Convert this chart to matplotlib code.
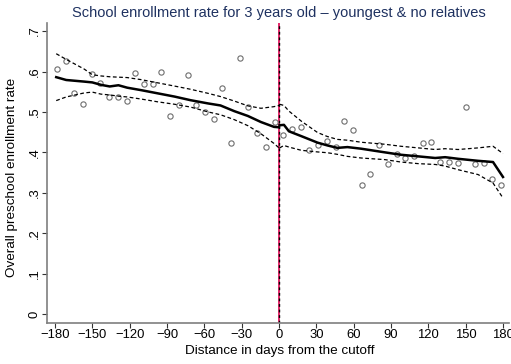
import matplotlib
matplotlib.use("Agg")
import matplotlib.pyplot as plt

plt.rcParams['font.family'] = ['Liberation Sans', 'DejaVu Sans']

# binned means (weekly bins)
x_left = [-178.5, -171.5, -164.5, -157.5, -150.5, -143.5, -136.5, -129.5, -122.5,
          -115.5, -108.5, -101.5, -94.5, -87.5, -80.5, -73.5, -66.5, -59.5, -52.5,
          -45.5, -38.5, -31.5, -24.5, -17.5, -10.5, -3.5]
y_left = [0.607, 0.626, 0.546, 0.519, 0.593, 0.571, 0.538, 0.538, 0.528, 0.596,
          0.570, 0.570, 0.598, 0.489, 0.516, 0.592, 0.518, 0.501, 0.483, 0.558,
          0.424, 0.634, 0.511, 0.449, 0.414, 0.476]
x_right = [3.5, 10.5, 17.5, 24.5, 31.5, 38.5, 45.5, 52.5, 59.5, 66.5, 73.5, 80.5,
           87.5, 94.5, 101.5, 108.5, 115.5, 122.5, 129.5, 136.5, 143.5, 150.5,
           157.5, 164.5, 171.5, 178.5]
y_right = [0.442, 0.458, 0.463, 0.405, 0.417, 0.428, 0.412, 0.478, 0.456, 0.318,
           0.347, 0.419, 0.372, 0.395, 0.387, 0.391, 0.424, 0.425, 0.375, 0.377,
           0.374, 0.513, 0.371, 0.374, 0.334, 0.320]

# local fit and confidence band, left of cutoff
fx_left = [-179, -171, -156.5, -150, -143, -136, -129, -122, -111, -97.5, -84,
           -71, -57, -47, -36, -25, -14.5, -4, 0]
fit_left = [0.586, 0.579, 0.575, 0.573, 0.567, 0.563, 0.566, 0.560, 0.554, 0.546,
            0.538, 0.529, 0.521, 0.516, 0.502, 0.490, 0.475, 0.463, 0.462]
hi_left = [0.644, 0.630, 0.606, 0.592, 0.589, 0.587, 0.586, 0.585, 0.580, 0.572,
           0.564, 0.556, 0.546, 0.538, 0.527, 0.515, 0.509, 0.513, 0.516]
lo_left = [0.528, 0.537, 0.547, 0.549, 0.544, 0.542, 0.539, 0.537, 0.532, 0.525,
           0.519, 0.512, 0.500, 0.493, 0.481, 0.466, 0.446, 0.422, 0.411]

# right of cutoff
fx_right = [0.5, 4, 8, 18, 31, 39, 47, 55, 66, 85, 98, 112, 125.5, 133.5, 144,
            160, 172, 180]
fit_right = [0.467, 0.468, 0.452, 0.440, 0.424, 0.417, 0.411, 0.413, 0.409, 0.400,
             0.394, 0.390, 0.386, 0.388, 0.384, 0.379, 0.376, 0.339]
hi_right = [0.519, 0.516, 0.502, 0.477, 0.449, 0.439, 0.432, 0.430, 0.425, 0.420,
            0.415, 0.411, 0.407, 0.409, 0.407, 0.411, 0.415, 0.397]
lo_right = [0.411, 0.417, 0.413, 0.405, 0.401, 0.399, 0.395, 0.390, 0.386, 0.382,
            0.376, 0.372, 0.370, 0.366, 0.357, 0.345, 0.324, 0.287]

xticks = list(range(-180, 181, 30))
yticks = [0, 0.1, 0.2, 0.3, 0.4, 0.5, 0.6, 0.7]
ytick_labels = ['0', '.1', '.2', '.3', '.4', '.5', '.6', '.7']

fig = plt.figure(figsize=(5.11, 3.64), dpi=100)
ax = fig.add_axes([0.092, 0.1126, 0.904, 0.8242])

ax.axvline(0, color='#e0185f', lw=1.3, zorder=1)
ax.axvline(0, color='black', lw=1.0, ls=(0, (2, 2)), zorder=2)

ax.plot(x_left + x_right, y_left + y_right, 'o', ms=3.8, mfc='none',
        mec='#6e6e6e', mew=0.8, zorder=3)

for fx, fit, hi, lo in [(fx_left, fit_left, hi_left, lo_left),
                        (fx_right, fit_right, hi_right, lo_right)]:
    ax.plot(fx, fit, color='black', lw=1.8, zorder=4)
    ax.plot(fx, hi, color='black', lw=0.9, ls=(0, (3, 2)), zorder=4)
    ax.plot(fx, lo, color='black', lw=0.9, ls=(0, (3, 2)), zorder=4)

ax.set_xlim(-186.4, 184.8)
ax.set_ylim(-0.0223, 0.72)
ax.set_xticks(xticks)
ax.set_xticklabels([str(t).replace('-', '\u2212') for t in xticks], fontsize=9.4)
ax.set_yticks(yticks)
ax.set_yticklabels(ytick_labels, fontsize=9.4, rotation=90, va='center')

for side in ['top', 'right']:
    ax.spines[side].set_visible(False)
for side in ['left', 'bottom']:
    ax.spines[side].set_color('#7f7f7f')
    ax.spines[side].set_linewidth(1.2)
ax.tick_params(length=3.5, width=0.8, color='#333333', pad=1)

fig.text(0.548, 0.036, 'Distance in days from the cutoff', ha='center',
         va='center', fontsize=9.7)
fig.text(0.024, 0.513, 'Overall preschool enrollment rate', ha='center',
         va='center', rotation=90, fontsize=9.7)
fig.text(0.545, 0.964, 'School enrollment rate for 3 years old \u2013 youngest & no relatives',
         ha='center', va='center', fontsize=10.5, color='#1e3160')

fig.savefig('out.png', dpi=100)
